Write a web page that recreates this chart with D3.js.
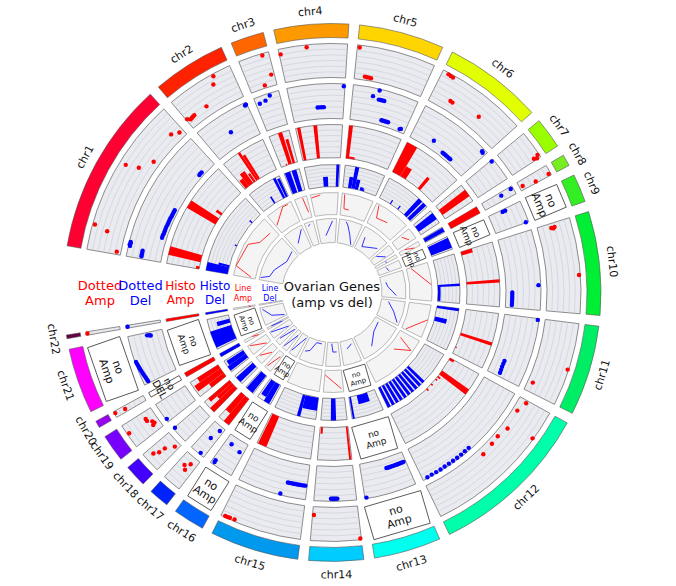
<!DOCTYPE html>
<html>
<head>
<meta charset="utf-8">
<script src="https://cdn.jsdelivr.net/npm/d3@7"></script>
<style>
  body { margin: 0; background: #fff; }
  text { font-family: "DejaVu Sans", sans-serif; }
</style>
</head>
<body>
<div id="chart"></div>
<script>
// DATA
const chroms = ["chr1","chr2","chr3","chr4","chr5","chr6","chr7","chr8","chr9","chr10","chr11",
  "chr12","chr13","chr14","chr15","chr16","chr17","chr18","chr19","chr20","chr21","chr22"];
// relative sizes of the chromosome sectors
const chromLen = [37.5,15.9,7.2,16.1,18.4,21.4,6.7,2.5,6.1,22.4,19.5,35.1,14.5,11.8,19.2,6.8,4.4,4.8,5.9,1.5,14.1,0.8];
const chromColors = ["#ff0033","#ff2200","#ff6600","#ff9900","#ffd500","#e1ff00","#99ff00","#77ee22",
  "#33ee22","#00ee33","#00ee66","#00ffaa","#00ffee","#00ccff","#0099ee","#0066ff","#0022ff",
  "#4400ff","#7700ff","#9900ee","#ff00ff","#660044"];

// chromosomes without data in a track
const noDottedAmp = ["chr9","chr13","chr16","chr21"];
const noDottedDel = ["chr20"];
const noHistoAmp = ["chr9","chr13","chr16","chr21"];
const noHistoDel = [];
const noLineAmp = ["chr9","chr13","chr16","chr21"];
const noLineDel = [];

// [chr, position in chr (0-1), value (0-1)]
const dottedAmp = [
  ["chr1",0.16,0.93],["chr1",0.14,0.53],["chr1",0.02,0.12],["chr1",0.58,0.81],["chr1",0.61,0.44],
  ["chr1",0.70,0.18],["chr1",0.92,0.31],["chr1",0.97,0.18],
  ["chr2",0.72,0.93],["chr2",0.66,0.72],["chr2",0.39,0.28],["chr2",0.06,0.25],["chr2",0.09,0.26],
  ["chr2",0.12,0.27],["chr2",0.15,0.28],["chr2",0.02,0.32],
  ["chr3",0.78,0.94],["chr3",0.89,0.33],["chr3",0.56,0.08],
  ["chr4",0.02,0.84],["chr4",0.41,0.93],
  ["chr5",0.03,0.93],["chr5",0.15,0.10],["chr5",0.18,0.09],["chr5",0.21,0.09],["chr5",0.24,0.08],
  ["chr6",0.07,0.95],["chr6",0.10,0.94],["chr6",0.13,0.93],["chr6",0.24,0.30],["chr6",0.27,0.29],["chr6",0.62,0.41],
  ["chr7",0.88,0.95],["chr7",0.92,0.80],["chr7",0.97,0.88],
  ["chr8",0.60,0.10],["chr8",0.85,0.50],["chr8",0.80,0.94],
  ["chr10",0.05,0.40],["chr10",0.05,0.50],["chr10",0.06,0.45],["chr10",0.60,0.96],
  ["chr11",0.56,0.97],["chr11",0.87,0.15],
  ["chr12",0.02,0.25],["chr12",0.10,0.14],["chr12",0.25,0.21],["chr12",0.34,0.13],["chr12",0.41,0.15],
  ["chr12",0.51,0.19],["chr12",0.20,0.97],
  ["chr14",0.97,0.24],["chr14",0.02,0.96],
  ["chr15",0.83,0.94],["chr15",0.89,0.95],["chr15",0.92,0.96],["chr15",0.95,0.96],
  ["chr17",0.40,0.45],["chr17",0.60,0.35],["chr17",0.35,0.22],
  ["chr18",0.55,0.60],["chr18",0.50,0.40],["chr18",0.20,0.15],["chr18",0.70,0.75],
  ["chr19",0.70,0.30],["chr19",0.60,0.30],["chr19",0.45,0.18],["chr19",0.35,0.15],["chr19",0.30,0.22],["chr19",0.60,0.94],
  ["chr20",0.67,0.97],["chr20",0.47,0.66],
  ["chr22",0.50,0.97]
];

const dottedDel = [
  ["chr1",0.08,0.95],["chr1",0.09,0.97],["chr1",0.10,0.95],["chr1",0.11,0.96],
  ["chr1",0.02,0.57],["chr1",0.035,0.57],["chr1",0.05,0.57],["chr1",0.065,0.57],
  ["chr1",0.21,0.13],["chr1",0.23,0.13],["chr1",0.25,0.12],["chr1",0.27,0.12],["chr1",0.29,0.12],
  ["chr1",0.31,0.12],["chr1",0.33,0.11],["chr1",0.35,0.11],["chr1",0.37,0.11],["chr1",0.39,0.11],
  ["chr1",0.41,0.10],["chr1",0.43,0.10],["chr1",0.45,0.10],["chr1",0.47,0.10],
  ["chr1",0.84,0.09],["chr1",0.855,0.10],["chr1",0.87,0.09],
  ["chr2",0.96,0.92],["chr2",0.98,0.93],["chr2",0.50,0.44],
  ["chr3",0.15,0.80],["chr3",0.40,0.83],["chr3",0.62,0.93],
  ["chr4",0.50,0.33],["chr4",0.54,0.33],["chr4",0.58,0.33],["chr4",0.62,0.33],["chr4",0.98,0.93],
  ["chr5",0.40,0.96],["chr5",0.32,0.76],["chr5",0.42,0.70],["chr5",0.45,0.70],["chr5",0.48,0.70],
  ["chr5",0.51,0.70],["chr5",0.55,0.15],["chr5",0.58,0.15],["chr5",0.61,0.15],["chr5",0.64,0.15],
  ["chr5",0.67,0.15],["chr5",0.90,0.08],["chr5",0.92,0.10],
  ["chr6",0.34,0.25],["chr6",0.55,0.12],["chr6",0.58,0.12],["chr6",0.61,0.12],["chr6",0.64,0.12],
  ["chr6",0.67,0.12],["chr6",0.70,0.12],["chr6",0.94,0.92],["chr6",0.96,0.90],
  ["chr7",0.05,0.93],
  ["chr8",0.37,0.60],["chr8",0.25,0.93],
  ["chr9",0.10,0.42],["chr9",0.10,0.50],["chr9",0.98,0.92],
  ["chr10",0.69,0.93],["chr10",0.78,0.18],["chr10",0.81,0.18],["chr10",0.84,0.18],["chr10",0.87,0.18],
  ["chr10",0.90,0.18],["chr10",0.93,0.18],["chr10",0.96,0.18],
  ["chr11",0.02,0.96],["chr11",0.74,0.33],["chr11",0.79,0.33],["chr11",0.84,0.33],["chr11",0.89,0.34],["chr11",0.94,0.35],
  ["chr12",0.56,0.94],["chr12",0.60,0.94],["chr12",0.64,0.95],["chr12",0.68,0.95],["chr12",0.72,0.95],
  ["chr12",0.76,0.95],["chr12",0.80,0.95],["chr12",0.84,0.96],["chr12",0.88,0.96],["chr12",0.92,0.96],["chr12",0.96,0.97],
  ["chr13",0.97,0.97],["chr13",0.05,0.28],["chr13",0.08,0.28],["chr13",0.11,0.28],["chr13",0.14,0.28],
  ["chr13",0.17,0.28],["chr13",0.20,0.28],["chr13",0.23,0.28],["chr13",0.26,0.28],["chr13",0.29,0.28],
  ["chr13",0.32,0.28],["chr13",0.35,0.28],["chr13",0.38,0.28],["chr13",0.41,0.28],["chr13",0.44,0.28],
  ["chr14",0.45,0.92],["chr14",0.48,0.92],["chr14",0.51,0.92],["chr14",0.54,0.92],["chr14",0.57,0.92],["chr14",0.60,0.92],
  ["chr15",0.03,0.60],["chr15",0.06,0.60],["chr15",0.09,0.60],["chr15",0.12,0.60],["chr15",0.15,0.60],
  ["chr15",0.18,0.60],["chr15",0.21,0.60],["chr15",0.24,0.60],["chr15",0.27,0.60],["chr15",0.30,0.60],["chr15",0.37,0.96],
  ["chr16",0.19,0.30],["chr16",0.69,0.23],["chr16",0.87,0.92],["chr16",0.88,0.86],
  ["chr17",0.25,0.12],["chr17",0.43,0.44],["chr17",0.32,0.95],
  ["chr18",0.97,0.95],
  ["chr19",0.15,0.97],
  ["chr21",0.93,0.39],["chr21",0.94,0.45],["chr21",0.92,0.35],
  ["chr21",0.04,0.86],["chr21",0.08,0.87],["chr21",0.12,0.88],["chr21",0.16,0.89],["chr21",0.20,0.90],
  ["chr21",0.24,0.91],["chr21",0.28,0.92],["chr21",0.32,0.93],["chr21",0.36,0.94],["chr21",0.40,0.95],
  ["chr21",0.44,0.96],["chr21",0.48,0.97],
  ["chr22",0.50,0.95]
];

// [chr, start (0-1), end (0-1), value (0-1)]
const histoAmp = [
  ["chr1",0.00,0.03,0.10],["chr1",0.08,0.16,1.00],["chr1",0.54,0.62,1.00],["chr1",0.66,0.69,0.20],
  ["chr2",0.03,0.14,0.30],["chr2",0.14,0.28,0.45],["chr2",0.30,0.36,0.30],["chr2",0.38,0.44,1.00],["chr2",0.44,0.50,0.85],
  ["chr3",0.45,0.65,1.00],["chr3",0.70,0.85,0.75],["chr3",0.30,0.36,0.05],
  ["chr4",0.03,0.10,1.00],["chr4",0.38,0.46,1.00],
  ["chr5",0.00,0.07,1.00],["chr5",0.07,0.20,0.06],
  ["chr6",0.00,0.18,1.00],["chr6",0.18,0.30,0.35],["chr6",0.60,0.66,0.45],
  ["chr7",0.30,0.70,1.00],
  ["chr8",0.00,1.00,1.00],
  ["chr10",0.00,0.07,0.35],["chr10",0.58,0.63,1.00],
  ["chr11",0.52,0.58,1.00],["chr11",0.84,0.87,0.04],
  ["chr12",0.00,0.03,0.15],["chr12",0.18,0.24,1.00],["chr12",0.26,0.28,0.10],["chr12",0.30,0.32,0.06],
  ["chr12",0.38,0.40,0.06],["chr12",0.46,0.48,0.08],
  ["chr14",0.02,0.08,1.00],["chr14",0.90,0.97,0.20],
  ["chr15",0.82,0.98,1.00],
  ["chr17",0.00,0.50,1.00],["chr17",0.50,1.00,0.70],
  ["chr18",0.00,0.40,1.00],["chr18",0.40,0.70,0.60],["chr18",0.70,1.00,0.85],
  ["chr19",0.00,0.30,0.55],["chr19",0.30,0.70,0.95],["chr19",0.70,1.00,0.75],
  ["chr20",0.00,1.00,1.00],
  ["chr22",0.00,1.00,1.00]
];

const histoDel = [
  ["chr1",0.00,0.10,1.00],["chr1",0.10,0.13,0.50],["chr1",0.42,0.44,0.10],["chr1",0.82,0.84,0.15],
  ["chr2",0.45,0.50,0.35],["chr2",0.80,0.88,1.00],["chr2",0.90,0.98,0.90],
  ["chr3",0.05,0.40,1.00],["chr3",0.50,0.80,1.00],
  ["chr4",0.50,0.65,0.45],["chr4",0.90,0.98,1.00],
  ["chr5",0.15,0.25,0.50],["chr5",0.25,0.35,1.00],["chr5",0.35,0.45,0.45],["chr5",0.50,0.60,0.15],["chr5",0.60,0.63,0.10],
  ["chr6",0.30,0.33,0.20],["chr6",0.53,0.56,0.20],["chr6",0.75,0.85,1.00],["chr6",0.88,0.97,1.00],
  ["chr7",0.20,0.70,1.00],
  ["chr8",0.10,0.90,1.00],
  ["chr9",0.10,0.90,1.00],
  ["chr10",0.60,0.65,1.00],["chr10",0.65,0.98,0.12],
  ["chr11",0.00,0.06,1.00],["chr11",0.30,0.42,0.55],
  ["chr12",0.42,0.46,1.00],["chr12",0.48,0.52,1.00],["chr12",0.54,0.58,1.00],["chr12",0.60,0.64,1.00],
  ["chr12",0.66,0.70,1.00],["chr12",0.72,0.76,1.00],["chr12",0.78,0.82,1.00],["chr12",0.84,0.88,1.00],
  ["chr12",0.90,0.94,1.00],["chr12",0.96,1.00,1.00],
  ["chr13",0.30,0.70,0.40],["chr13",0.92,0.98,1.00],
  ["chr14",0.42,0.62,1.00],
  ["chr15",0.00,0.37,0.60],["chr15",0.37,0.45,1.00],
  ["chr16",0.10,0.50,1.00],["chr16",0.50,0.90,0.80],
  ["chr17",0.10,0.90,1.00],
  ["chr18",0.20,0.80,1.00],
  ["chr19",0.10,0.50,1.00],["chr19",0.50,0.90,0.90],
  ["chr20",0.00,1.00,1.00],
  ["chr21",0.05,0.60,1.00],["chr21",0.70,0.85,0.60],
  ["chr22",0.00,1.00,1.00]
];

// [chr, position (0-1), value (0-1)] joined per chromosome
const lineAmp = [
  ["chr1",0.02,0.20],["chr1",0.15,0.98],["chr1",0.53,0.85],["chr1",0.66,0.45],["chr1",0.90,0.35],
  ["chr2",0.05,0.40],["chr2",0.65,0.95],["chr2",0.85,0.93],
  ["chr3",0.65,0.95],["chr3",0.80,0.25],
  ["chr4",0.02,0.85],["chr4",0.35,0.92],
  ["chr5",0.08,0.95],["chr5",0.12,0.30],["chr5",0.30,0.28],
  ["chr6",0.08,0.95],["chr6",0.20,0.40],["chr6",0.55,0.50],
  ["chr7",0.20,0.50],["chr7",0.80,0.70],
  ["chr8",0.10,0.30],["chr8",0.90,0.70],
  ["chr10",0.02,0.20],["chr10",0.58,0.98],
  ["chr11",0.45,0.98],["chr11",0.97,0.20],
  ["chr12",0.12,0.18],["chr12",0.21,0.90],["chr12",0.38,0.27],
  ["chr14",0.10,0.85],["chr14",0.97,0.22],
  ["chr17",0.20,0.20],["chr17",0.80,0.90],
  ["chr18",0.10,0.30],["chr18",0.90,0.80],
  ["chr19",0.10,0.20],["chr19",0.90,0.90],
  ["chr20",0.20,0.30],["chr20",0.80,0.60],
  ["chr22",0.20,0.20],["chr22",0.80,0.30]
];

const lineDel = [
  ["chr1",0.05,0.95],["chr1",0.12,0.60],["chr1",0.30,0.50],["chr1",0.65,0.20],["chr1",0.95,0.30],
  ["chr2",0.35,0.40],["chr2",0.90,0.85],
  ["chr3",0.30,0.85],["chr3",0.60,0.90],
  ["chr4",0.40,0.30],["chr4",0.80,0.90],
  ["chr5",0.30,0.92],["chr5",0.40,0.80],["chr5",0.60,0.45],["chr5",0.85,0.05],
  ["chr6",0.20,0.60],["chr6",0.30,0.20],["chr6",0.90,0.55],
  ["chr7",0.10,0.30],["chr7",0.90,0.60],
  ["chr8",0.20,0.50],["chr8",0.80,0.50],
  ["chr9",0.20,0.40],["chr9",0.80,0.45],
  ["chr10",0.30,0.20],["chr10",0.50,0.25],["chr10",0.90,0.60],
  ["chr11",0.10,0.30],["chr11",0.50,0.60],["chr11",0.90,0.90],
  ["chr12",0.10,0.20],["chr12",0.40,0.30],["chr12",0.70,0.70],
  ["chr13",0.20,0.20],["chr13",0.60,0.35],
  ["chr14",0.20,0.40],["chr14",0.50,0.40],["chr14",0.60,0.05],
  ["chr15",0.20,0.10],["chr15",0.50,0.10],["chr15",0.70,0.50],["chr15",0.90,0.60],
  ["chr16",0.10,0.10],["chr16",0.90,0.85],
  ["chr17",0.10,0.20],["chr17",0.90,0.90],
  ["chr18",0.15,0.10],["chr18",0.85,0.80],
  ["chr19",0.10,0.20],["chr19",0.90,0.95],
  ["chr20",0.20,0.30],["chr20",0.80,0.80],
  ["chr21",0.10,0.10],["chr21",0.40,0.60],["chr21",0.90,0.90],
  ["chr22",0.20,0.50],["chr22",0.80,0.50]
];

// LAYOUT
const width = 676, height = 586;
const cx = 332, cy = 292.5;
const startDeg = -80, gapDeg = 2.3;
const ideoR = [255, 269], chrLabelR = 282;

const tracks = [
  { label: ["Dotted", "Amp"], kind: "dot",  data: dottedAmp, missing: noDottedAmp, miss: ["no", "Amp"],
    r0: 215, r1: 249, color: "#ff0000", labSize: 13, labY: [290, 305], missSize: 11 },
  { label: ["Dotted", "Del"], kind: "dot",  data: dottedDel, missing: noDottedDel, miss: ["no", "DEL"],
    r0: 174, r1: 209, color: "#0000ff", labSize: 13, labY: [290, 305], missSize: 10 },
  { label: ["Histo", "Amp"],  kind: "bar",  data: histoAmp,  missing: noHistoAmp,  miss: ["no", "Amp"],
    r0: 135, r1: 168, color: "#ff0000", labSize: 12, labY: [290, 304], missSize: 9 },
  { label: ["Histo", "Del"],  kind: "bar",  data: histoDel,  missing: noHistoDel,  miss: ["no", "Del"],
    r0: 106, r1: 128, color: "#0000ff", labSize: 12, labY: [290, 304], missSize: 8 },
  { label: ["Line", "Amp"],   kind: "line", data: lineAmp,   missing: noLineAmp,   miss: ["no", "Amp"],
    r0: 78, r1: 100, color: "#ff0000", labSize: 8, labY: [291, 301], missSize: 7 },
  { label: ["Line", "Del"],   kind: "line", data: lineDel,   missing: noLineDel,   miss: ["no", "Del"],
    r0: 50, r1: 74, color: "#0000ff", labSize: 8, labY: [291, 301], missSize: 7 }
];

const toRad = d => d * Math.PI / 180;

// angular scale per chromosome
const chrScale = {};
let acc = startDeg;
chroms.forEach((c, i) => {
  chrScale[c] = d3.scaleLinear().domain([0, 1]).range([toRad(acc), toRad(acc + chromLen[i])]);
  acc += chromLen[i] + gapDeg;
});
const midAngle = c => (chrScale[c](0) + chrScale[c](1)) / 2;
const polar = (a, r) => [r * Math.sin(a), -r * Math.cos(a)];
// text reads upright: flip in the lower half
const tangentRot = a => {
  const deg = a * 180 / Math.PI;
  return Math.cos(a) < 0 ? deg - 180 : deg;
};

const svg = d3.select("#chart").append("svg")
  .attr("width", width)
  .attr("height", height);

const g = svg.append("g").attr("transform", `translate(${cx},${cy})`);

// IDEOGRAM
const arc = d3.arc();
g.append("g").selectAll("path")
  .data(chroms)
  .join("path")
  .attr("d", c => arc({ innerRadius: ideoR[0], outerRadius: ideoR[1],
    startAngle: chrScale[c](0), endAngle: chrScale[c](1) }))
  .attr("fill", (c, i) => chromColors[i])
  .attr("stroke", "#555")
  .attr("stroke-width", 0.6);

g.append("g").selectAll("text")
  .data(chroms)
  .join("text")
  .attr("transform", c => {
    const a = midAngle(c);
    const [x, y] = polar(a, chrLabelR);
    return `translate(${x},${y}) rotate(${tangentRot(a)})`;
  })
  .attr("text-anchor", "middle")
  .attr("dy", "0.35em")
  .attr("font-size", 11)
  .attr("fill", "#111")
  .text(c => c);

// TRACKS
tracks.forEach(t => {
  const tg = g.append("g");
  const rScale = d3.scaleLinear().domain([0, 1]).range([t.r0, t.r1]);
  const present = chroms.filter(c => !t.missing.includes(c));
  const isLine = t.kind === "line";

  // segment backgrounds
  tg.append("g").selectAll("path")
    .data(present)
    .join("path")
    .attr("d", c => arc({ innerRadius: t.r0, outerRadius: t.r1,
      startAngle: chrScale[c](0), endAngle: chrScale[c](1) }))
    .attr("fill", isLine ? "#f4f4f4" : "#eaeaf1")
    .attr("stroke", isLine ? "#a8a8a8" : "#707070")
    .attr("stroke-width", 0.8);

  // grid lines
  if (!isLine) {
    const levels = [1, 2, 3, 4, 5].map(k => k / 6);
    const grid = [];
    present.forEach(c => levels.forEach(v => grid.push({ c, v })));
    tg.append("g").selectAll("path")
      .data(grid)
      .join("path")
      .attr("d", d => {
        const p = d3.path();
        p.arc(0, 0, rScale(d.v), chrScale[d.c](0) - Math.PI / 2, chrScale[d.c](1) - Math.PI / 2);
        return p.toString();
      })
      .attr("fill", "none")
      .attr("stroke", "#c9c9d0")
      .attr("stroke-width", 0.6);
  }

  // marks
  if (t.kind === "dot") {
    tg.append("g").selectAll("circle")
      .data(t.data)
      .join("circle")
      .attr("cx", d => polar(chrScale[d[0]](d[1]), rScale(d[2]))[0])
      .attr("cy", d => polar(chrScale[d[0]](d[1]), rScale(d[2]))[1])
      .attr("r", 2.2)
      .attr("fill", t.color);
  } else if (t.kind === "bar") {
    tg.append("g").selectAll("path")
      .data(t.data)
      .join("path")
      .attr("d", d => arc({ innerRadius: t.r0, outerRadius: rScale(d[3]),
        startAngle: chrScale[d[0]](d[1]), endAngle: chrScale[d[0]](d[2]) }))
      .attr("fill", t.color);
  } else {
    const byChr = d3.group(t.data, d => d[0]);
    const line = d3.line()
      .x(d => polar(chrScale[d[0]](d[1]), rScale(d[2]))[0])
      .y(d => polar(chrScale[d[0]](d[1]), rScale(d[2]))[1]);
    tg.append("g").selectAll("path")
      .data(Array.from(byChr.values()))
      .join("path")
      .attr("d", pts => line(pts.slice().sort((a, b) => a[1] - b[1])))
      .attr("fill", "none")
      .attr("stroke", t.color)
      .attr("stroke-width", 0.8);
  }

  // boxes for chromosomes without data
  const rm = (t.r0 + t.r1) / 2, h = t.r1 - t.r0;
  const boxes = tg.append("g").selectAll("g")
    .data(t.missing)
    .join("g")
    .attr("transform", c => {
      const a = midAngle(c);
      return `rotate(${a * 180 / Math.PI}) translate(0,${-rm})`;
    });
  boxes.append("rect")
    .attr("x", c => -rm * Math.sin((chrScale[c](1) - chrScale[c](0)) / 2))
    .attr("y", -h / 2)
    .attr("width", c => 2 * rm * Math.sin((chrScale[c](1) - chrScale[c](0)) / 2))
    .attr("height", h)
    .attr("fill", "#fff")
    .attr("stroke", "#444")
    .attr("stroke-width", 0.8);
  const boxText = boxes.append("text")
    .attr("transform", c => Math.cos(midAngle(c)) < 0 ? "rotate(180)" : null)
    .attr("text-anchor", "middle")
    .attr("font-size", t.missSize)
    .attr("fill", "#111");
  boxText.append("tspan").attr("x", 0).attr("y", -0.15 * t.missSize).text(t.miss[0]);
  boxText.append("tspan").attr("x", 0).attr("y", 0.95 * t.missSize).text(t.miss[1]);

  // track label in the opening of the circle
  const lab = svg.append("text")
    .attr("text-anchor", "middle")
    .attr("font-size", t.labSize)
    .attr("fill", t.color);
  t.label.forEach((s, i) => lab.append("tspan")
    .attr("x", cx - rm)
    .attr("y", t.labY[i])
    .text(s));
});

// TITLE
const title = svg.append("text")
  .attr("text-anchor", "middle")
  .attr("font-size", 13)
  .attr("fill", "#111");
title.append("tspan").attr("x", cx).attr("y", 291).text("Ovarian Genes");
title.append("tspan").attr("x", cx).attr("y", 307).text("(amp vs del)");
</script>
</body>
</html>
